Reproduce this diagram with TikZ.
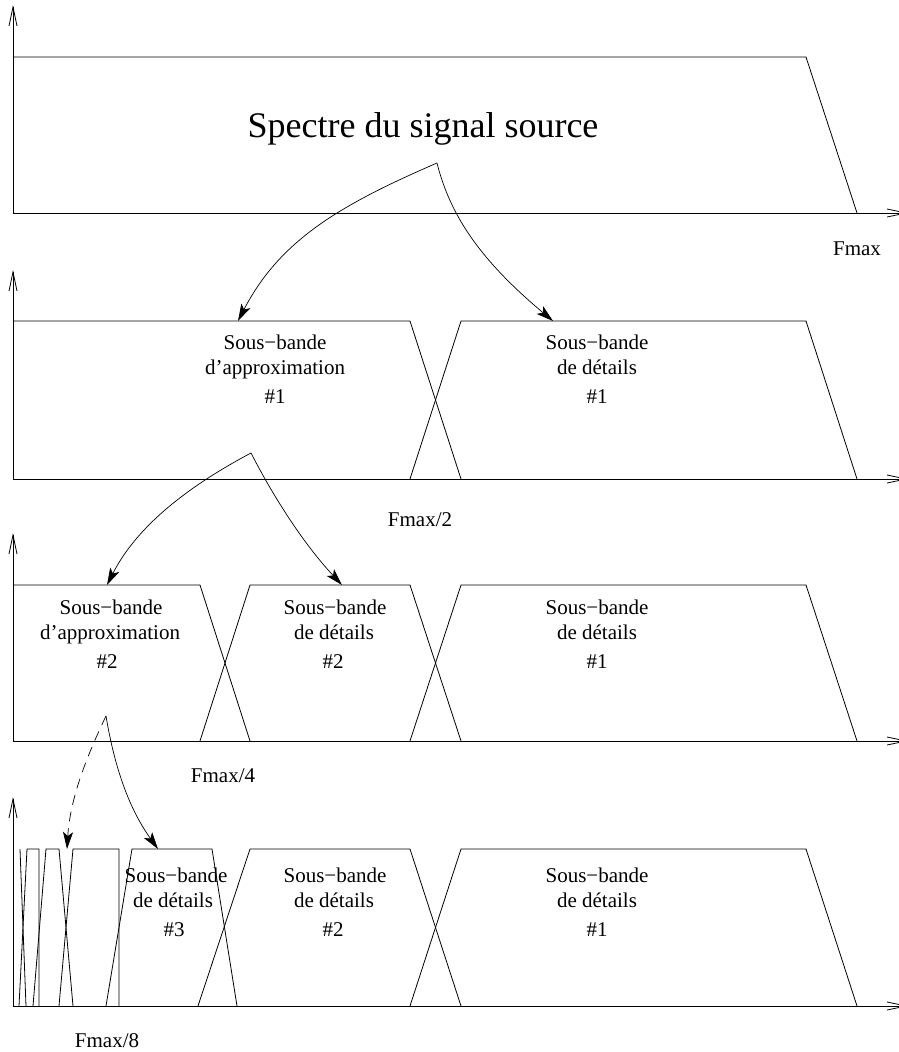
\documentclass[tikz,border=0pt]{standalone}
\usepackage{fontspec}
\setmainfont{Liberation Serif}
\usetikzlibrary{arrows.meta}
\begin{document}
\begin{tikzpicture}[x=1pt,y=-1pt,line width=0.8pt,
  axisarrow/.style={-{Straight Barb[length=19pt,width=8pt]}},
  flow/.style={-{Stealth[length=17pt,width=10pt,inset=4pt]},line width=0.7pt},
  dashflow/.style={flow,dash pattern=on 10pt off 7pt},
  lbl/.style={anchor=base,inner sep=0pt,font=\fontsize{21}{25}\selectfont},
  big/.style={anchor=base,inner sep=0pt,font=\fontsize{36}{40}\selectfont}]
\useasboundingbox (0,0) rectangle (898,1052);
% ---------- panel 1
\draw[axisarrow] (13,213) -- (13,5);
\draw[axisarrow] (13,213) -- (908,213);
\draw (13,57) -- (806,57) -- (857,213);
\node[big] (title) at (423,137) {Spectre du signal source};
\node[lbl] (f1) at (857,255) {Fmax};
% ---------- panel 2
\draw[axisarrow] (13,479) -- (13,270);
\draw[axisarrow] (13,479) -- (908,479);
\draw (13,321) -- (410,321) -- (461,479);
\draw (410,479) -- (461,321) -- (806,321) -- (857,479);
\node[lbl] (a1a) at (275,349) {Sous−bande};
\node[lbl] (a1b) at (275,374) {d’approximation};
\node[lbl] (a1c) at (275,403) {\#1};
\node[lbl] (d1a) at (597,349) {Sous−bande};
\node[lbl] (d1b) at (597,374) {de détails};
\node[lbl] (d1c) at (597,403) {\#1};
\node[lbl] (f2) at (420,526) {Fmax/2};
% ---------- panel 3
\draw[axisarrow] (13,741) -- (13,533);
\draw[axisarrow] (13,741) -- (908,741);
\draw (13,585) -- (200,585) -- (250,741);
\draw (200,741) -- (250,585) -- (410,585) -- (461,741);
\draw (410,741) -- (461,585) -- (806,585) -- (857,741);
\node[lbl] (a2a) at (111,614) {Sous−bande};
\node[lbl] (a2b) at (110,639) {d’approximation};
\node[lbl] (a2c) at (107,668) {\#2};
\node[lbl] (d22a) at (335,614) {Sous−bande};
\node[lbl] (d22b) at (334,639) {de détails};
\node[lbl] (d22c) at (333,668) {\#2};
\node[lbl] (d21a) at (597,614) {Sous−bande};
\node[lbl] (d21b) at (597,639) {de détails};
\node[lbl] (d21c) at (597,668) {\#1};
\node[lbl] (f4) at (223,782) {Fmax/4};
% ---------- panel 4
\draw[axisarrow] (13,1006) -- (13,797);
\draw[axisarrow] (13,1006) -- (908,1006);
\draw (20,849) -- (26,1006);
\draw (19,1006) -- (27,849) -- (39,849) -- (39,1006);
\draw (33,1006) -- (46,849) -- (59,849) -- (73,1006);
\draw (59,1006) -- (73,849) -- (119,849) -- (119,1006);
\draw (106,1006) -- (132,849) -- (212,849) -- (237,1006);
\draw (198,1006) -- (250,849) -- (410,849) -- (461,1006);
\draw (410,1006) -- (461,849) -- (806,849) -- (857,1006);
\node[lbl] (d3a) at (176,882) {Sous−bande};
\node[lbl] (d3b) at (173,907) {de détails};
\node[lbl] (d3c) at (174,936) {\#3};
\node[lbl] (d42a) at (335,882) {Sous−bande};
\node[lbl] (d42b) at (334,907) {de détails};
\node[lbl] (d42c) at (333,936) {\#2};
\node[lbl] (d41a) at (597,882) {Sous−bande};
\node[lbl] (d41b) at (597,907) {de détails};
\node[lbl] (d41c) at (597,936) {\#1};
\node[lbl] (f8) at (107,1047) {Fmax/8};
% ---------- flow arrows
\coordinate (s1) at (437,163);
\coordinate (t1a) at (238,321);
\coordinate (t1d) at (553,321);
\coordinate (s2) at (251,453);
\coordinate (t2a) at (107,585);
\coordinate (t2d) at (342,585);
\coordinate (s3) at (106,716);
\coordinate (t3a) at (67,849);
\coordinate (t3d) at (158,849);
\draw[flow] (s1) .. controls (340,205) and (280,240) .. (t1a);
\draw[flow] (s1) .. controls (450,215) and (480,260) .. (t1d);
\draw[flow] (s2) .. controls (200,480) and (140,520) .. (t2a);
\draw[flow] (s2) .. controls (270,490) and (300,540) .. (t2d);
\draw[flow] (s3) .. controls (115,770) and (130,810) .. (t3d);
\draw[dashflow] (s3) .. controls (85,760) and (70,800) .. (t3a);
\end{tikzpicture}
\end{document}
